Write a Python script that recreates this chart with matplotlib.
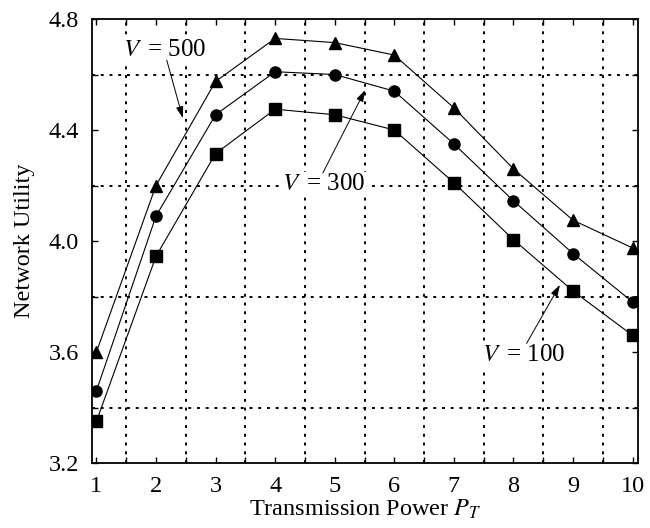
import matplotlib
matplotlib.use('Agg')
import matplotlib.pyplot as plt
from matplotlib.ticker import MultipleLocator

plt.rcParams['font.family'] = 'Liberation Serif'
plt.rcParams['mathtext.fontset'] = 'stix'

# transmission power
power = [1, 2, 3, 4, 5, 6, 7, 8, 9, 10]
# network utility for each V
util_v500 = [3.60, 4.20, 4.575, 4.73, 4.715, 4.67, 4.48, 4.26, 4.075, 3.975]
util_v300 = [3.46, 4.09, 4.455, 4.61, 4.60, 4.54, 4.35, 4.145, 3.955, 3.78]
util_v100 = [3.35, 3.945, 4.315, 4.475, 4.455, 4.40, 4.21, 4.005, 3.82, 3.66]

fig = plt.figure(figsize=(6.5, 5.28), dpi=100)
ax = fig.add_axes([0.141, 0.123, 0.8405, 0.841])

kw = dict(color='black', lw=0.8, markersize=8)
ax.plot(power, util_v500, marker='^', **kw)
ax.plot(power, util_v300, marker='o', **kw)
ax.plot(power, util_v100, marker='s', **kw)

ax.set_xlim(0.92, 10.09)
ax.set_ylim(3.2, 4.8)
ax.xaxis.set_major_locator(MultipleLocator(1))
ax.xaxis.set_minor_locator(MultipleLocator(0.5))
ax.yaxis.set_major_locator(MultipleLocator(0.4))
ax.yaxis.set_minor_locator(MultipleLocator(0.2))
ax.tick_params(which='major', direction='in', length=4, width=1.0,
               top=True, right=True, labelsize=17.5, pad=9)
ax.tick_params(which='minor', direction='in', length=4, width=1.0,
               top=True, right=True)
ax.grid(which='minor', color='black', linestyle=(0, (1.5, 3)), lw=1.4)
ax.grid(which='major', visible=False)
for s in ax.spines.values():
    s.set_linewidth(1.3)

ax.set_xlabel(r'Transmission Power $P_T$', fontsize=17.5, labelpad=1)
ax.set_ylabel('Network Utility', fontsize=17.5, labelpad=10)

# thin, long arrow heads like the original
arrow = dict(arrowstyle='-|>,head_length=0.7,head_width=0.22', color='black',
             lw=0.7, mutation_scale=10, shrinkA=0, shrinkB=0)
box = dict(facecolor='white', edgecolor='none', pad=0.5)
ax.text(2.15, 4.69, r'$V\,$ = 500', ha='center', va='center', fontsize=18,
        bbox=box)
ax.annotate('', xy=(2.45, 4.443), xytext=(2.18, 4.652), arrowprops=arrow)
ax.text(4.81, 4.205, r'$V\,$ = 300', ha='center', va='center', fontsize=18,
        bbox=box)
ax.annotate('', xy=(5.51, 4.544), xytext=(4.80, 4.245), arrowprops=arrow)
ax.text(8.17, 3.59, r'$V\,$ = 100', ha='center', va='center', fontsize=18,
        bbox=box)
ax.annotate('', xy=(8.78, 3.842), xytext=(8.22, 3.631), arrowprops=arrow)

fig.savefig('out.png', dpi=100)
